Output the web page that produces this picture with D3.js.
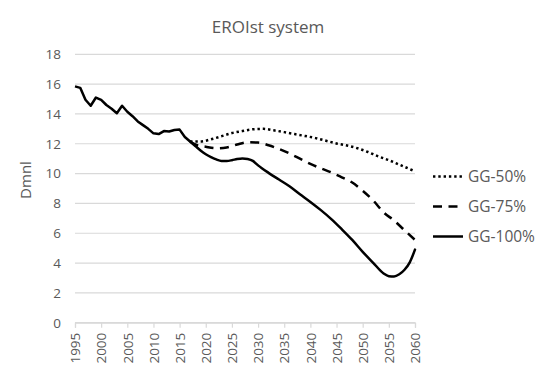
<!DOCTYPE html>
<html>
<head>
<meta charset="utf-8">
<script src="https://cdn.jsdelivr.net/npm/d3@7"></script>
<style>
    body { margin: 0; background: #fff; }
    svg { display: block; font-family: 'Open Sans', sans-serif; }
</style>
</head>
<body>
<svg width="550" height="372"></svg>
<script>
    // *** data ***
    const histYears = [1995, 1996, 1997, 1998, 1999, 2000, 2001, 2002, 2003, 2004, 2005, 2006,
        2007, 2008, 2009, 2010, 2011, 2012, 2013, 2014, 2015, 2016, 2017];
    const histValues = [15.85, 15.75, 14.95, 14.55, 15.1, 14.95, 14.6, 14.35, 14.05, 14.55, 14.15, 13.85,
        13.5, 13.25, 13.0, 12.7, 12.65, 12.85, 12.82, 12.92, 12.95, 12.45, 12.15];

    const gg50Years = [2017, 2019, 2021, 2023, 2025, 2027, 2029, 2031, 2033, 2035, 2037, 2039,
        2041, 2043, 2045, 2047, 2049, 2051, 2053, 2055, 2057, 2059, 2060];
    const gg50Values = [12.15, 12.15, 12.3, 12.5, 12.72, 12.85, 12.97, 13.0, 12.9, 12.78, 12.65, 12.52,
        12.38, 12.2, 12.02, 11.88, 11.7, 11.45, 11.15, 10.9, 10.6, 10.3, 10.15];

    const gg75Years = [2017, 2018, 2020, 2022, 2024, 2026, 2028, 2030, 2032, 2034, 2036, 2038,
        2040, 2042, 2044, 2046, 2048, 2050, 2052, 2054, 2056, 2058, 2060];
    const gg75Values = [12.15, 11.95, 11.8, 11.7, 11.75, 11.95, 12.1, 12.08, 11.9, 11.65, 11.35, 11.0,
        10.65, 10.35, 10.08, 9.75, 9.4, 8.85, 8.2, 7.4, 6.85, 6.2, 5.55];

    const gg100Years = [2017, 2018, 2019, 2020, 2021, 2022, 2023, 2024, 2025, 2026, 2027, 2028,
        2029, 2030, 2032, 2034, 2036, 2038, 2040, 2042, 2044, 2046, 2048, 2050, 2052, 2054,
        2055, 2056, 2057, 2058, 2059, 2060];
    const gg100Values = [12.15, 11.85, 11.55, 11.3, 11.1, 10.95, 10.85, 10.85, 10.9, 10.98, 11.02, 10.98,
        10.85, 10.55, 10.05, 9.6, 9.15, 8.62, 8.1, 7.55, 6.95, 6.27, 5.55, 4.75, 4.02, 3.3,
        3.12, 3.1, 3.25, 3.55, 4.05, 4.9];

    const yTicks = [0, 2, 4, 6, 8, 10, 12, 14, 16, 18];
    const xTicks = d3.range(1995, 2061, 5);
    const legendLabels = ['GG-50%', 'GG-75%', 'GG-100%'];

    const zip = (xs, ys) => xs.map((x, i) => ({ year: x, value: ys[i] }));

    // *** visualization ***
    const svg = d3.select('svg');
    const textColor = '#595959';
    const gridColor = '#d9d9d9';

    const x = d3.scaleLinear().domain([1995, 2060]).range([75, 415]);
    const y = d3.scaleLinear().domain([0, 18]).range([322.7, 54.3]);

    // grid lines
    svg.append('g')
        .selectAll('line')
        .data(yTicks)
        .enter()
        .append('line')
        .attr('x1', x(1995))
        .attr('x2', x(2060))
        .attr('y1', d => y(d))
        .attr('y2', d => y(d))
        .attr('stroke', gridColor)
        .attr('stroke-width', 1.2);

    // y axis labels
    const yAxis = svg.append('g')
        .attr('transform', `translate(${x(1995)},0)`)
        .call(d3.axisLeft(y).tickValues(yTicks).tickSize(0).tickPadding(14));
    yAxis.select('.domain').remove();
    yAxis.selectAll('text')
        .attr('fill', textColor)
        .style('font-size', '13.5px')
        .style('font-family', "'Open Sans', sans-serif");

    // x axis
    const xAxis = svg.append('g')
        .attr('transform', `translate(0,${y(0)})`)
        .call(d3.axisBottom(x).tickValues(xTicks).tickFormat(d3.format('d')).tickSize(5).tickPadding(4));
    xAxis.select('.domain').attr('stroke', gridColor).attr('stroke-width', 1.2);
    xAxis.selectAll('.tick line').attr('stroke', gridColor).attr('stroke-width', 1.2);
    xAxis.selectAll('text')
        .attr('fill', textColor)
        .style('font-size', '13.5px')
        .style('font-family', "'Open Sans', sans-serif")
        .attr('text-anchor', 'end')
        .attr('dy', '0.35em')
        .attr('transform', 'rotate(-90)')
        .attr('x', -10)
        .attr('y', 0);

    // lines
    const line = d3.line()
        .x(d => x(d.year))
        .y(d => y(d.value));
    const smoothLine = d3.line()
        .curve(d3.curveMonotoneX)
        .x(d => x(d.year))
        .y(d => y(d.value));

    const series = [
        { key: 'GG-50%', data: zip(gg50Years, gg50Values), dash: '2.4,2.9', cap: 'butt' },
        { key: 'GG-75%', data: zip(gg75Years, gg75Values), dash: '9,6.5', cap: 'butt' },
        { key: 'GG-100%', data: zip(gg100Years, gg100Values), dash: null, cap: 'round' },
    ];

    svg.append('g')
        .selectAll('path')
        .data(series)
        .enter()
        .append('path')
        .attr('d', d => smoothLine(d.data))
        .attr('fill', 'none')
        .attr('stroke', '#000')
        .attr('stroke-width', 2.5)
        .attr('stroke-linecap', d => d.cap)
        .attr('stroke-dasharray', d => d.dash);

    svg.append('path')
        .attr('d', line(zip(histYears, histValues)))
        .attr('fill', 'none')
        .attr('stroke', '#000')
        .attr('stroke-width', 2.5)
        .attr('stroke-linejoin', 'round');

    // legend
    const legend = svg.append('g')
        .selectAll('g')
        .data(series)
        .enter()
        .append('g')
        .attr('transform', (d, i) => `translate(433,${176.5 + i * 30})`);
    legend.append('line')
        .attr('x1', 0)
        .attr('x2', 30)
        .attr('stroke', '#000')
        .attr('stroke-width', 2.5)
        .attr('stroke-dasharray', d => d.dash);
    legend.append('text')
        .attr('x', 35)
        .attr('dy', '0.35em')
        .attr('fill', textColor)
        .style('font-size', '15.5px')
        .text((d, i) => legendLabels[i]);

    // title
    svg.append('text')
        .attr('x', 268)
        .attr('y', 33)
        .attr('text-anchor', 'middle')
        .attr('fill', textColor)
        .style('font-size', '17px')
        .text('EROIst system');

    // y label
    svg.append('text')
        .attr('transform', 'translate(31,180) rotate(-90)')
        .attr('text-anchor', 'middle')
        .attr('fill', textColor)
        .style('font-size', '15px')
        .text('Dmnl');
</script>
</body>
</html>
